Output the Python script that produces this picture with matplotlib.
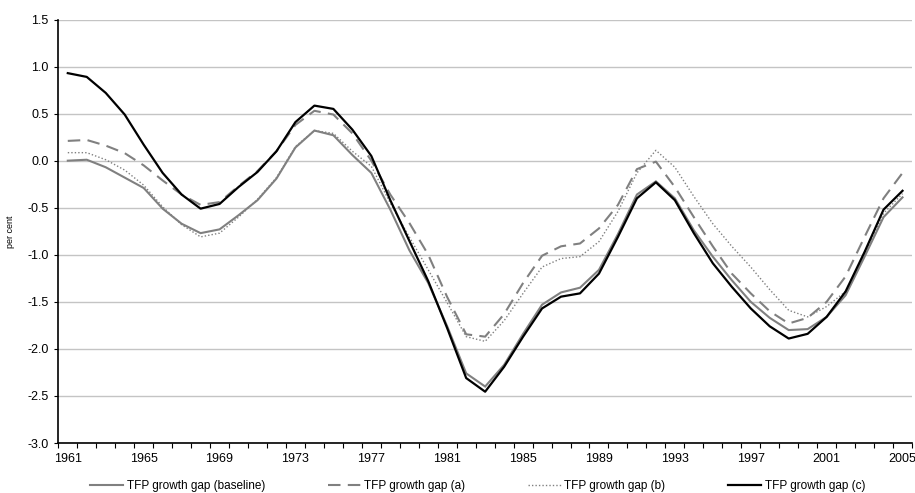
import matplotlib
matplotlib.use("Agg")
import matplotlib.pyplot as plt
from matplotlib.ticker import FixedLocator, FormatStrFormatter

plt.rcParams['font.family'] = ['Liberation Sans', 'DejaVu Sans']

years = list(range(1961, 2006))

baseline = [0.00, 0.01, -0.07, -0.18, -0.29, -0.51, -0.67, -0.77, -0.73, -0.58,
            -0.42, -0.19, 0.14, 0.32, 0.27, 0.06, -0.13, -0.52, -0.95, -1.30,
            -1.76, -2.26, -2.40, -2.17, -1.84, -1.53, -1.40, -1.35, -1.16, -0.78,
            -0.36, -0.22, -0.40, -0.74, -1.02, -1.27, -1.50, -1.67, -1.80, -1.79,
            -1.66, -1.43, -1.02, -0.60, -0.39]

gap_a = [0.21, 0.22, 0.16, 0.08, -0.05, -0.21, -0.36, -0.47, -0.44, -0.27,
         -0.11, 0.10, 0.38, 0.53, 0.49, 0.29, 0.00, -0.36, -0.66, -1.00,
         -1.45, -1.845, -1.87, -1.63, -1.30, -1.01, -0.91, -0.88, -0.72, -0.47,
         -0.09, -0.01, -0.28, -0.60, -0.91, -1.20, -1.41, -1.60, -1.73, -1.67,
         -1.50, -1.23, -0.81, -0.40, -0.13]

gap_b = [0.085, 0.085, 0.01, -0.10, -0.26, -0.49, -0.68, -0.81, -0.77, -0.60,
         -0.41, -0.18, 0.15, 0.32, 0.29, 0.10, -0.06, -0.45, -0.81, -1.16,
         -1.51, -1.87, -1.92, -1.70, -1.41, -1.13, -1.04, -1.02, -0.86, -0.54,
         -0.13, 0.11, -0.07, -0.38, -0.67, -0.91, -1.13, -1.37, -1.59, -1.66,
         -1.55, -1.39, -0.99, -0.56, -0.35]

gap_c = [0.93, 0.89, 0.72, 0.49, 0.17, -0.13, -0.36, -0.51, -0.46, -0.28,
         -0.12, 0.10, 0.41, 0.585, 0.55, 0.33, 0.05, -0.42, -0.85, -1.28,
         -1.78, -2.31, -2.455, -2.19, -1.87, -1.57, -1.445, -1.41, -1.20, -0.81,
         -0.40, -0.23, -0.42, -0.77, -1.09, -1.34, -1.57, -1.76, -1.89, -1.84,
         -1.66, -1.39, -0.97, -0.52, -0.32]

labels = ["TFP growth gap (baseline)", "TFP growth gap (a)",
          "TFP growth gap (b)", "TFP growth gap (c)"]
xtick_years = list(range(1961, 2006, 4))
yticks = [-3.0, -2.5, -2.0, -1.5, -1.0, -0.5, 0.0, 0.5, 1.0, 1.5]

W, H = 915, 493
fig = plt.figure(figsize=(W / 100, H / 100), dpi=100)
ax = fig.add_axes([58.3 / W, 1 - 443 / H, (912 - 58.3) / W, (443 - 19.5) / H])

gray = '#808080'
l1, = ax.plot(years, baseline, color=gray, lw=1.5, solid_joinstyle='miter')
l2, = ax.plot(years, gap_a, color=gray, lw=1.5, dashes=(6, 3.5))
l3, = ax.plot(years, gap_b, color=gray, lw=1.0, dashes=(1, 1.5))
l4, = ax.plot(years, gap_c, color='black', lw=1.6)

ax.set_xlim(years[0] - 0.5, years[-1] + 0.5)
ax.set_ylim(-3.0, 1.5)

ax.set_yticks(yticks)
ax.yaxis.set_major_formatter(FormatStrFormatter('%.1f'))
ax.grid(axis='y', color='#c4c4c4', lw=1.0)
ax.set_axisbelow(True)

ax.set_xticks(xtick_years)
ax.xaxis.set_minor_locator(FixedLocator([y - 0.5 for y in range(years[0], years[-1] + 2)]))
ax.tick_params(axis='x', which='major', length=0, pad=7, labelsize=9)
ax.tick_params(axis='x', which='minor', length=3.5, width=0.8, direction='out')
ax.tick_params(axis='y', which='major', length=3, width=0.8, direction='out', pad=4, labelsize=9)

for s in ['top', 'right']:
    ax.spines[s].set_visible(False)
for s in ['left', 'bottom']:
    ax.spines[s].set_color('black')
    ax.spines[s].set_linewidth(1.2)

ax.set_ylabel("per cent", fontsize=6.5)
ax.yaxis.set_label_coords((15 - 58.3) / (912 - 58.3), 0.5)

fig.legend([l1, l2, l3, l4], labels, loc='center left',
           bbox_to_anchor=(90 / W, 1 - 486 / H), ncol=4, frameon=False,
           fontsize=8.5, handlelength=2.8, handletextpad=0.3,
           columnspacing=5.3, borderpad=0, borderaxespad=0)

fig.savefig("out.png", dpi=100)
